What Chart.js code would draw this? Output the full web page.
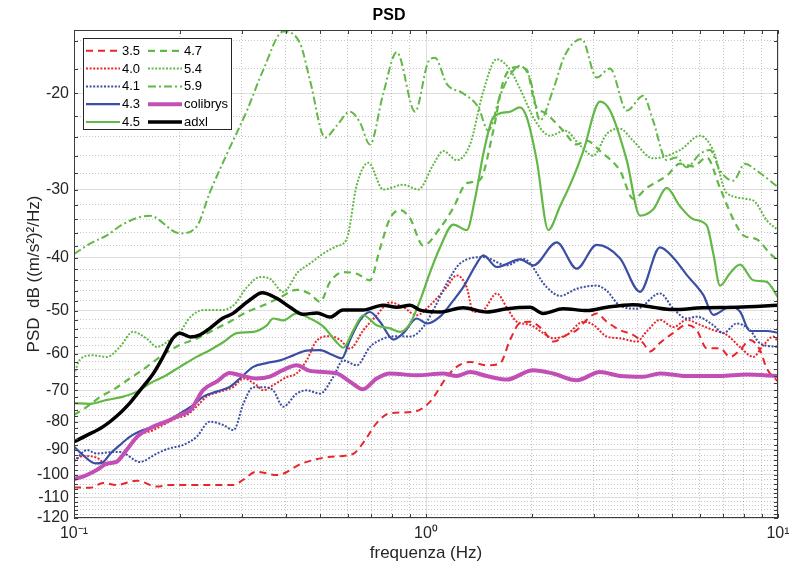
<!DOCTYPE html>
<html><head><meta charset="utf-8">
<script src="https://cdn.jsdelivr.net/npm/chart.js@4.4.0/dist/chart.umd.min.js"></script>
<style>html,body{margin:0;padding:0;background:#fff;}canvas{display:block;}</style>
</head><body>
<canvas id="c" width="789" height="571"></canvas>
<script>
// ---- data (frequency in Hz, PSD in dB) ----
const seriesNames = ['3.5','4.0','4.1','4.3','4.5','4.7','5.4','5.9','colibrys','adxl'];

const f35 = [0.1,0.111,0.121,0.132,0.151,0.172,0.187,0.214,0.254,0.283,0.302,0.33,0.377,0.447,0.534,0.62,0.662,0.724,0.79,0.918,1.026,1.145,1.222,1.334,1.487,1.623,1.733,1.849,1.975,2.15,2.296,2.51,2.68,2.861,3.054,3.262,3.557,3.874,4.135,4.329,4.621,5.031,5.503,5.875,6.273,6.842,7.307,7.798,8.326,8.89,9.288,10];
const v35 = [-105.5,-105.6,-103.5,-104.4,-102.5,-105.1,-104.4,-104.4,-104.4,-104.4,-102.2,-98.7,-100.1,-95.2,-92.7,-91.6,-87.5,-80.4,-77.1,-76.7,-73.5,-66.2,-63.4,-62.1,-63,-62.5,-56.6,-52.7,-52.4,-54.3,-57,-55.4,-54.3,-52,-50.6,-52.4,-54.3,-55.4,-57.3,-59.4,-57.3,-55,-53.1,-54.3,-58.6,-58.6,-60.8,-59.1,-56.6,-59.1,-63.8,-67.5];

const f40 = [0.1,0.106,0.116,0.124,0.132,0.144,0.154,0.168,0.183,0.196,0.209,0.223,0.238,0.26,0.284,0.303,0.33,0.345,0.368,0.402,0.429,0.458,0.489,0.534,0.57,0.608,0.664,0.724,0.79,0.862,0.941,1.026,1.145,1.222,1.305,1.363,1.455,1.588,1.695,1.81,1.975,2.154,2.3,2.51,2.798,2.988,3.262,3.557,3.969,4.236,4.621,5.042,5.503,6.003,6.549,7.15,7.798,8.508,9.083,9.697,10];
const v40 = [-94.2,-92.4,-93,-95.7,-94.4,-88.8,-84.6,-82.8,-80.4,-78.7,-77.7,-75,-71.9,-70.4,-69,-66.6,-68.5,-70,-68.5,-66.2,-65.2,-61.7,-56.8,-55.7,-56.6,-58.7,-54.3,-51,-48.3,-49.3,-51,-48.9,-45.3,-43.1,-45.3,-50.3,-49.9,-46.5,-49.3,-52.4,-53.1,-55,-56.2,-55.4,-52.4,-53.1,-55.8,-56.2,-57,-54.6,-52,-53.6,-52,-53.1,-54.3,-55.4,-58.3,-60.8,-57.9,-55.8,-57];

const f41 = [0.1,0.109,0.116,0.127,0.135,0.154,0.172,0.187,0.204,0.223,0.243,0.266,0.284,0.303,0.323,0.345,0.368,0.393,0.429,0.458,0.5,0.545,0.582,0.636,0.693,0.756,0.826,0.901,0.982,1.049,1.145,1.249,1.455,1.695,1.889,2.203,2.403,2.68,3.054,3.262,3.557,3.969,4.621,5.042,5.503,5.875,6.549,6.992,7.632,8.326,8.89,10];
const v41 = [-94.5,-90.1,-91.4,-90.9,-90.8,-94.7,-91.4,-89.4,-88.2,-85.2,-79.9,-81.1,-82.8,-74,-69.1,-69.1,-70,-75,-71,-70,-71,-66.2,-61.7,-63,-58.3,-56.3,-55.7,-55.8,-53.6,-49.9,-44.6,-41,-39.9,-41.3,-40.2,-45.3,-47,-45.6,-45,-46,-49,-49.6,-46.5,-49.6,-51.7,-51.3,-53.2,-55,-52.8,-54.3,-57.4,-58.3];

const f43 = [0.1,0.106,0.115,0.12,0.127,0.135,0.144,0.157,0.168,0.183,0.2,0.218,0.233,0.254,0.277,0.296,0.323,0.353,0.385,0.42,0.458,0.5,0.545,0.576,0.608,0.649,0.693,0.74,0.808,0.862,0.941,1.005,1.096,1.196,1.276,1.393,1.455,1.588,1.849,2.018,2.352,2.68,3.054,3.557,4.055,4.621,5.042,5.503,6.134,6.549,7.307,7.798,8.326,9.288,10];
const v43 = [-88.8,-92,-95.3,-95.1,-91.4,-88.2,-85.2,-82.8,-81.6,-79.9,-77.2,-74.5,-71.9,-70.4,-69,-66.6,-63.4,-62.4,-61.7,-60.4,-59.2,-59.1,-60.4,-61.2,-56.6,-52.1,-50.3,-52.4,-56.5,-55,-51.7,-52.8,-51.3,-47.9,-45.3,-41,-39.6,-41.6,-40.3,-41.3,-37.5,-41.9,-37.9,-40.1,-46.2,-38.3,-40,-43,-46.8,-50.9,-49.2,-50.2,-54.5,-54.5,-54.9];

const f45 = [0.1,0.111,0.124,0.138,0.151,0.164,0.179,0.2,0.223,0.243,0.266,0.29,0.323,0.353,0.368,0.393,0.429,0.468,0.511,0.558,0.582,0.622,0.664,0.724,0.79,0.844,0.901,0.962,1.026,1.096,1.196,1.305,1.378,1.455,1.537,1.605,1.733,1.849,1.932,2.063,2.226,2.403,2.621,2.798,3.121,3.333,3.717,4.055,4.423,4.829,5.268,5.746,6.273,6.549,6.842,7.307,7.798,8.508,9.288,10];
const v45 = [-73.9,-74.1,-72.9,-71.9,-70.4,-68,-66.2,-63.4,-60.8,-59.1,-57.1,-55,-54.7,-53.2,-51.7,-52.1,-50.6,-51.7,-53.5,-57.2,-58.5,-54.3,-51,-53.2,-53.9,-54.7,-52.8,-47.9,-42.6,-38.3,-34.8,-35.6,-31.2,-25.8,-22.4,-21.8,-21.6,-21.2,-22.1,-26.5,-35.6,-32.2,-28.5,-25.5,-20.7,-21.5,-26.5,-33.5,-32.6,-29.8,-32.2,-34,-34.9,-39.3,-45,-42.7,-41.2,-44,-44.3,-47.3];

const f47 = [0.1,0.109,0.119,0.129,0.144,0.161,0.179,0.2,0.223,0.249,0.277,0.31,0.345,0.385,0.429,0.468,0.5,0.534,0.582,0.636,0.693,0.74,0.79,0.844,0.901,0.982,1.096,1.196,1.305,1.423,1.553,1.658,1.81,1.932,2.04,2.203,2.455,2.68,2.861,3.121,3.557,3.881,4.236,4.829,5.268,5.746,6.273,6.842,7.464,7.969,8.7,9.491,10];
const v47 = [-77.7,-75,-71.9,-69.9,-66.6,-63.4,-60.3,-57.8,-56.3,-54.3,-52.4,-50.3,-48.9,-47.3,-45.8,-46.6,-48.2,-44.3,-42.5,-42.8,-44,-38.5,-33.9,-32.7,-33.9,-38,-35.3,-32.4,-29.2,-28.8,-23.4,-19,-17.9,-18.1,-20.9,-21.8,-23.4,-24.8,-24.4,-25.5,-27.7,-31.2,-29.8,-28.3,-26.9,-27.2,-26.2,-29.8,-34,-36.4,-37,-39.3,-40.5];

const f54 = [0.1,0.104,0.113,0.124,0.135,0.147,0.161,0.172,0.187,0.2,0.214,0.233,0.26,0.284,0.31,0.338,0.36,0.393,0.433,0.468,0.511,0.558,0.595,0.636,0.686,0.756,0.862,0.951,1.049,1.12,1.222,1.334,1.455,1.588,1.733,1.849,2.04,2.25,2.483,2.739,2.982,3.268,3.557,3.874,4.414,5.268,6.003,6.536,7.163,8.492,9.306,10];
const v54 = [-65.5,-61.5,-60.4,-60.8,-58.3,-54.7,-56.3,-58.3,-56.6,-54.7,-51.4,-49.9,-49.9,-48.9,-45.3,-43.4,-43.7,-46.2,-42.5,-41,-39.3,-38.1,-37,-29.4,-26.8,-30,-29.4,-30,-27,-25.5,-26.5,-24.8,-19.8,-17.3,-18.1,-19.6,-22.4,-23.9,-23.4,-24.9,-26,-23.7,-23.2,-24.4,-26.3,-25.4,-23.9,-25.4,-30.5,-31.4,-34.2,-35.6];

const f59 = [0.1,0.111,0.124,0.138,0.164,0.2,0.223,0.243,0.272,0.31,0.345,0.393,0.439,0.468,0.517,0.558,0.608,0.649,0.693,0.756,0.826,0.931,1.015,1.061,1.145,1.276,1.408,1.503,1.623,1.733,1.849,1.975,2.108,2.296,2.483,2.769,3.054,3.333,3.717,4.143,4.414,4.829,5.155,5.503,6.003,6.409,6.842,7.464,8.059,8.7,9.491,10];
const v59 = [-39.4,-37.7,-36.4,-34.7,-33.5,-36.1,-35.1,-30.4,-25.8,-21.5,-18.1,-15.4,-16.2,-18.9,-24.1,-22.9,-21.6,-22.6,-24.8,-20,-16.8,-21.6,-17.5,-17.2,-19.2,-20,-21.2,-23.4,-20.2,-18.5,-17.8,-18.8,-22.4,-19.7,-17,-15.9,-18.7,-18,-21.5,-20.2,-22.4,-26.5,-26.2,-27.3,-25.8,-25.4,-27.7,-28.9,-26.9,-27.7,-28.9,-29.7];

const fColibrys = [0.1,0.106,0.116,0.124,0.132,0.141,0.151,0.168,0.187,0.2,0.214,0.233,0.254,0.277,0.302,0.33,0.36,0.392,0.429,0.468,0.51,0.558,0.608,0.662,0.724,0.79,0.941,1.118,1.222,1.334,1.487,1.695,2.014,2.296,2.68,3.121,3.557,4.135,4.621,5.503,6.842,8.15,10];
const vColibrys = [-101.8,-100.8,-98,-95.4,-94.7,-90.1,-85.2,-81.6,-79.4,-77.7,-76.1,-69.9,-67.5,-65.1,-65.9,-66.6,-66.1,-64.3,-63,-64.5,-64.8,-65.2,-67.5,-69.7,-66.6,-65.2,-65.7,-65.2,-65.9,-64.8,-65.9,-66.9,-64.3,-65.2,-67.1,-64.8,-65.9,-66.1,-65.2,-65.9,-65.9,-65.5,-65.9];

const fAdxl = [0.1,0.109,0.121,0.135,0.144,0.154,0.168,0.179,0.191,0.2,0.214,0.228,0.243,0.265,0.283,0.302,0.323,0.342,0.377,0.411,0.447,0.49,0.534,0.581,0.662,0.755,0.827,0.901,0.962,1.096,1.274,1.491,1.699,1.975,2.15,2.45,2.867,3.268,3.873,4.414,5.03,6.12,7.65,10];
const vAdxl = [-87,-84.6,-81.6,-77.1,-73.9,-70,-65.2,-60.8,-56.2,-55,-55.9,-55.4,-53.9,-51.6,-50.6,-48.9,-47.3,-46.4,-47.5,-49.3,-50.8,-50.5,-51.4,-49.9,-49.9,-48.9,-49.3,-48.9,-49.9,-50.3,-49.4,-50.3,-49.6,-49.3,-50.6,-49.6,-50,-49.3,-48.8,-49.3,-49.8,-49.4,-49.3,-48.9];

// axis ticks
const xTicks = [0.1,0.2,0.3,0.4,0.5,0.6,0.7,0.8,0.9,1,2,3,4,5,6,7,8,9,10];
const xMajor = [0.1,1,10];
const xTickLabels = ['10\u207B\u00B9','10\u2070','10\u00B9'];
const yTicks = [];   // dB, every 2 dB from -16 to -120
for (let d = -16; d >= -120; d -= 2) yTicks.push(d);
const yLabelStep = 10;
const yLimits = [-15.3, -120];

// ---- styling ----
const RED = '#e8262c', BLUE = '#3a4ea3', GREEN = '#62b846', MAGENTA = '#c24fb5', BLACK = '#000000';
const DASH = [7,5], DOT = [2,1.6], DASHDOT = [8,3,2,3];
const styles = [
  {c: RED, d: DASH, w: 2},
  {c: RED, d: DOT, w: 2},
  {c: BLUE, d: DOT, w: 2},
  {c: BLUE, d: [], w: 2.2},
  {c: GREEN, d: [], w: 2.2},
  {c: GREEN, d: DASH, w: 2.2},
  {c: GREEN, d: DOT, w: 2},
  {c: GREEN, d: DASHDOT, w: 2},
  {c: MAGENTA, d: [], w: 4},
  {c: BLACK, d: [], w: 3.5}
];
const freqs = [f35,f40,f41,f43,f45,f47,f54,f59,fColibrys,fAdxl];
const vals  = [v35,v40,v41,v43,v45,v47,v54,v59,vColibrys,vAdxl];

// negative dB plotted on a reversed logarithmic magnitude axis (as in the source figure)
const datasets = seriesNames.map((name, i) => ({
  label: name,
  data: freqs[i].map((f, j) => ({x: f, y: -vals[i][j]})),
  borderColor: styles[i].c,
  borderDash: styles[i].d,
  borderWidth: styles[i].w,
  pointRadius: 0,
  fill: false,
  cubicInterpolationMode: 'monotone',
  order: seriesNames.length - 1 - i
}));

const FONT = '"Liberation Sans", Arial, Helvetica, sans-serif';
const isXMajor = v => xMajor.some(m => Math.abs(m - v) < 1e-9);
const isYMajor = v => Math.abs(v % yLabelStep) < 1e-9;

const framePlugin = {
  id: 'frame',
  afterDatasetsDraw(chart) {
    const {ctx, chartArea: a, scales: {x, y}} = chart;
    ctx.save();
    ctx.strokeStyle = '#3c3c3c';
    ctx.lineWidth = 1;
    ctx.setLineDash([]);
    ctx.beginPath();
    const L = 4;
    x.ticks.forEach(t => {
      const px = Math.round(x.getPixelForValue(t.value)) + 0.5;
      ctx.moveTo(px, a.bottom); ctx.lineTo(px, a.bottom - L);
      ctx.moveTo(px, a.top); ctx.lineTo(px, a.top + L);
    });
    y.ticks.forEach(t => {
      const py = Math.round(y.getPixelForValue(t.value)) + 0.5;
      ctx.moveTo(a.left, py); ctx.lineTo(a.left + L, py);
      ctx.moveTo(a.right, py); ctx.lineTo(a.right - L, py);
    });
    ctx.stroke();
    ctx.strokeRect(a.left + 0.5, a.top + 0.5, a.right - a.left - 1, a.bottom - a.top - 1);
    ctx.restore();
  }
};

const legendPlugin = {
  id: 'boxLegend',
  afterDraw(chart) {
    const {ctx, chartArea: a} = chart;
    const ds = chart.data.datasets;
    const x0 = a.left + 9.5, y0 = a.top + 8.5, w = 148, h = 91;
    ctx.save();
    ctx.fillStyle = '#fff';
    ctx.fillRect(x0, y0, w, h);
    ctx.strokeStyle = '#262626'; ctx.lineWidth = 1; ctx.setLineDash([]);
    ctx.strokeRect(x0, y0, w, h);
    ctx.font = '13px ' + FONT;
    ctx.textBaseline = 'middle';
    ds.forEach((d, i) => {
      const col = Math.floor(i / 5), row = i % 5;
      const lx = x0 + 2.5 + col * 62, ly = y0 + 12.3 + row * 17.8;
      ctx.strokeStyle = d.borderColor; ctx.lineWidth = d.borderWidth;
      ctx.setLineDash(d.borderDash || []);
      ctx.beginPath(); ctx.moveTo(lx, ly); ctx.lineTo(lx + 34, ly); ctx.stroke();
      ctx.setLineDash([]);
      ctx.fillStyle = '#000';
      ctx.fillText(d.label, lx + 36, ly + 0.5);
    });
    ctx.restore();
  }
};

new Chart(document.getElementById('c'), {
  type: 'line',
  data: {datasets},
  plugins: [framePlugin, legendPlugin],
  options: {
    responsive: false,
    animation: false,
    devicePixelRatio: 1,
    layout: {padding: {left: 0, right: 11, top: 0, bottom: 0}},
    plugins: {
      legend: {display: false},
      tooltip: {enabled: false},
      title: {display: true, text: 'PSD', color: '#000',
        font: {family: FONT, size: 16, weight: 'bold'}, padding: {top: 6, bottom: 4.8}}
    },
    scales: {
      x: {
        type: 'logarithmic', min: xMajor[0], max: xMajor[xMajor.length - 1],
        afterBuildTicks: s => { s.ticks = xTicks.map(v => ({value: v})); },
        afterFit: s => { s.height = 53; s.paddingLeft = 0; s.paddingRight = 0; },
        ticks: {
          autoSkip: false, maxRotation: 0, padding: 6, color: '#262626',
          font: {family: FONT, size: 16},
          callback: v => { const k = xMajor.findIndex(m => Math.abs(m - v) < 1e-9); return k >= 0 ? xTickLabels[k] : ''; }
        },
        grid: {
          drawTicks: false,
          color: c => (c.tick && isXMajor(c.tick.value)) ? 'rgba(0,0,0,0.13)' : 'rgba(0,0,0,0.22)',
          lineWidth: 1
        },
        border: {display: false, dash: c => (c.tick && !isXMajor(c.tick.value)) ? [1, 2] : []},
        title: {display: true, text: 'frequenza (Hz)', color: '#262626',
          font: {family: FONT, size: 17}, padding: {top: 0, bottom: 7}}
      },
      y: {
        type: 'logarithmic', reverse: true, min: -yLimits[0], max: -yLimits[1],
        afterBuildTicks: s => { s.ticks = yTicks.map(v => ({value: -v})); },
        afterFit: s => { s.width = 74; s.paddingTop = 0; s.paddingBottom = 0; },
        ticks: {
          autoSkip: false, padding: 5, color: '#262626',
          font: {family: FONT, size: 16},
          callback: v => isYMajor(v) ? String(-v) : ''
        },
        grid: {
          drawTicks: false,
          color: c => (c.tick && isYMajor(c.tick.value)) ? 'rgba(0,0,0,0.13)' : 'rgba(0,0,0,0.22)',
          lineWidth: 1
        },
        border: {display: false, dash: c => (c.tick && !isYMajor(c.tick.value)) ? [1, 2] : []},
        title: {display: true, text: 'PSD  dB ((m/s\u00B2)\u00B2/Hz)', color: '#262626',
          font: {family: FONT, size: 17}, padding: {top: 24, bottom: 0}}
      }
    }
  }
});
</script>
</body></html>
